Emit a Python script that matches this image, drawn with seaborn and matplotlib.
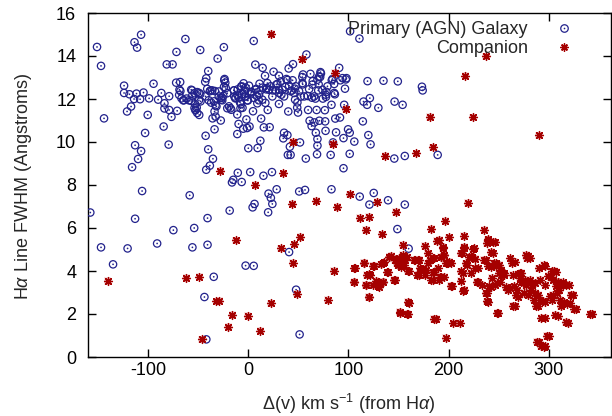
import matplotlib
matplotlib.use("Agg")
import matplotlib.pyplot as plt
import seaborn as sns
import pandas as pd
from matplotlib.lines import Line2D
from matplotlib.legend_handler import HandlerTuple

# ---------------- data ----------------
primary_dv = [
    -157.7, -151, -147, -147, -144, -135, -124, -124, -121, -120.5,
    -118.6, -117, -116, -113.6, -113, -113, -111, -114, -111.6, -110,
    -108, -107, -107, -106, -104.6, -103, -100.4, -99, -94.6, -91,
    -90, -86.8, -84.5, -83.7, -83.7, -81.4, -79.5, -79, -79, -76.7,
    -75.6, -74.8, -72, -71.7, -71, -69, -68, -67.8, -65, -62.8,
    -61.6, -58.5, -57, -56, -55.8, -54, -52.7, -53, -51.5, -49,
    -48, -49, -48, -43, -42.6, -42, -42, -40, -40.7, -40.7,
    -40, -39.5, -38.4, -38.4, -43.8, -41.9, -37, -35.7, -35.3, -34.5,
    -33.7, -33.7, -33.3, -32.6, -31.8, -30.6, -29.5, -27.5, -27, -26,
    -24.4, -24, -23, -22.5, -21, -18.6, -17.8, -16.3, -15, -14.3,
    -14, -13, -11, -11, -10.5, -10.5, -9.7, -9.3, -7.8, -7.4,
    -7, -6.6, -6.2, -5.8, -5, -4.7, -3.5, -3.1, -2.7, -2.7,
    -1.9, -1.2, -0.4, 0, 1.2, 1.9, 2.3, 3.1, 4.3, 4.7,
    5.4, 5.4, 6.2, 7, 7.8, 8.5, 9.3, 10.5, 11.2, 12,
    12.8, 14.3, 14.3, 15.1, 15.5, 17, 17.8, 18.6, 19.4, 19.8,
    20.2, 21.3, 22.5, 23.6, 24, 24.4, 25.2, 27, 28.3, 29,
    30.6, 30.6, 30.6, 33, 34.9, 35.7, 36.8, 39, 39, 39.5,
    39.9, 40.3, 41.5, 40.7, 42.2, 43.4, 44.2, 44.6, 46.5, 47.7,
    48.8, 49.6, 50.8, 51.2, 51.6, 52.3, 53.9, 54.3, 54.6, 56.6,
    57.4, 58, 59.3, 59.7, 61.2, 62, 63.2, 63.6, 64.3, 65.9,
    67, 67.4, 68.2, 68.6, 69, 69, 69.8, 70.2, 70.9, 71.7,
    72, 72.5, 74.4, 76.4, 76.7, 77.1, 77.5, 78, 82.2, 83,
    83, 83.3, 84.5, 85.7, 86.4, 86.8, 87.6, 90.7, 91.5, 91.9,
    95, 95, 95.7, 96.5, 97.3, 99.6, 101.2, 101.2, 101.6, 105.8,
    110.9, 111.2, 114.3, 115, 118.6, 119, 119.8, 120.9, 121.3, 122,
    125.2, 129.8, 134.9, 139.5, 146, 145.7, 148.8, 149.2, 154, 156.2,
    156.2, 160, 173.3, 174, 189,
    -68.7, -66.7, -64.3, -59.3, -57, -56, -53.7, -51, -49.3, -53.7,
    -52.7, -51, -47.7, -42.7, -41, -37.7, -36, -34.3, -32.7, -29.3,
    -27.7, -26, -25, -24.3, -23.7, -21, -19.3, -17, -14.3, -12.7,
    -11, -8.3, -7, -4.3, -2.7, -1, 0.7, 3, 5.7, 7.3,
    9, 10.7, 12.3, 14,
    16.7, 19, 20.7, 22.3, 24, 28, 30.7, 32.3, 34, 35.7,
    38, 40.7, 42.3, 45.7, 46.7, 47.3, 49, 50.7, 54, 55.7,
    60.7, 64, 65.7, 69, 70.7, 74, 77.3, 79, 84, 85.7,
    94, 98,
]
primary_fwhm = [
    6.72, 14.42, 13.54, 5.1, 11.1, 4.31, 12.62, 12.28, 11.42, 5.05,
    12.22, 11.65, 8.83, 14.64, 6.43, 9.85, 14.39, 12.0, 12.25, 9.21,
    11.99, 14.99, 9.58, 7.72, 12.3, 10.42, 11.26, 12.03, 12.71, 5.28,
    11.97, 12.28, 10.72, 11.8, 11.56, 13.61, 9.88, 12.13, 11.49, 11.17,
    13.61, 5.9, 12.76, 14.19, 11.45, 12.19, 12.79, 12.37, 11.94, 14.79,
    12.02, 7.52, 11.91, 12.4, 5.1, 6.0, 11.47, 11.76, 11.6, 12.28,
    12.22, 11.26, 14.28, 12.8, 10.29, 12.96, 8.71, 9.66, 6.46, 5.22,
    13.3, 11.94, 12.36, 8.9, 2.79, 0.82, 11.83, 11.1, 9.22, 3.73,
    11.42, 10.59, 12.37, 11.18, 11.66, 13.88, 12.12, 11.0, 11.97, 12.06,
    14.41, 12.87, 12.76, 12.51, 11.57, 6.81, 11.57, 8.12, 8.24, 12.4,
    12.12, 12.03, 10.37, 11.28, 8.57, 12.45, 10.84, 12.06, 11.57, 11.76,
    12.59, 8.14, 12.23, 11.59, 10.62, 12.73, 12.12, 12.4, 12.53, 4.25,
    11.05, 10.65, 11.93, 9.71, 10.72, 8.6, 12.22, 12.34, 6.96, 11.43,
    14.7, 4.24, 7.12, 13.6, 12.47, 12.14, 9.72, 11.94, 12.71, 10.06,
    11.09, 12.53, 13.45, 8.43, 10.68, 11.82, 12.45, 12.51, 11.49, 6.73,
    7.6, 10.69, 7.4, 8.6, 7.12, 12.4, 13.27, 12.4, 7.8, 12.7,
    11.77, 13.08, 12.43, 12.2, 10.17, 10.43, 12.56, 12.88, 10.32, 9.4,
    11.42, 13.42, 9.78, 4.88, 9.4, 12.4, 12.87, 13.62, 12.48, 3.13,
    11.6, 11.37, 7.7, 1.05, 9.98, 12.11, 13.02, 12.68, 13.14, 7.77,
    9.23, 14.07, 12.14, 11.49, 10.99, 13.17, 10.74, 12.06, 12.83, 10.91,
    12.02, 10.43, 11.49, 9.43, 9.83, 10.14, 12.4, 12.68, 10.99, 13.02,
    13.25, 13.19, 12.02, 11.48, 10.96, 10.52, 12.1, 12.33, 9.4, 7.8,
    11.73, 12.87, 9.98, 12.7, 12.22, 11.09, 10.45, 13.45, 11.14, 12.87,
    8.78, 10.18, 11.73, 12.48, 12.91, 10.59, 10.43, 9.45, 15.15, 10.02,
    14.81, 7.46, 10.96, 11.88, 11.73, 12.83, 10.32, 7.09, 12.04, 9.89,
    7.63, 11.59, 12.85, 7.29, 11.88, 9.23, 5.95, 12.82, 11.73, 9.35,
    7.09, 5.04, 12.57, 12.4, 9.4,
    12.43, 12.03, 11.94, 11.94, 12.43, 12.15, 12.27, 12.32, 11.94, 11.58,
    11.5, 11.35, 11.89, 12.12, 12.47, 12.40, 12.40, 11.89, 11.7, 12.35,
    12.05, 11.94, 12.15, 12.56, 12.93, 12.27, 11.66, 11.5, 12.40, 12.05,
    12.2, 11.84, 12.56, 12.35, 12.12, 11.94, 12.62, 12.3, 12.05, 12.43,
    11.8, 12.2, 12.40, 11.97,
    13.08, 12.74, 12.43, 12.59, 12.12, 12.67, 12.28, 12.82, 12.43, 12.12,
    12.93, 12.62, 12.36, 12.28, 11.97, 12.59, 11.84, 12.36, 12.74, 12.12,
    12.46, 12.67, 12.12, 12.9, 13.05, 12.43, 12.2, 12.59, 12.93, 12.28,
    12.97, 12.97,
]

companion_dv = [
    22.9, 53.5, 86.4, 97.3, 44.6, 84.5, -27.9, 34.9, 7, 237.2,
    216.7, 181.4, 224, 289.9, 184.1, 136.8, 167.8, 101.2, 43.8, 67.8,
    88.8, 128.7, 219, 147.5, 111.2, 120.2, 117.4, 133.3, 196.5, 182.6,
    235.7, 200.4, 215.1, 238.8, 244.6, -12.4, 51.9, 32.2, 46.1, 44.2,
    -140.3, -62, -48.8, -31.8, -29, -15.9, -19.8, -0.8, 12, 22.5,
    -46.5, 48.4, 79.1, 85.7, 105.8, 105, 115.5, 120.2, 117.4, 118.2,
    121.3, 124.4, 127.1, 129, 131, 134, 134.9, 138.8, 140.7, 142.6,
    145.3, 146.5, 148.4, 150.4, 152.3, 154.3, 154.3, 156.2, 158.1, 151.2,
    158.1, 159.3, 159.3, 165.9, 169.8, 168.6, 171, 174.8, 176.4, 179.5,
    181.4, 182.6, 184.5, 185.7, 188.4, 189.1, 190.3, 191.9, 192.6, 194.2,
    195, 196.9, 198.8, 200.8, 201.9, 185.3, 196.9, 204.7, 210.9, 212.4,
    212.4, 214.3, 213.6, 215.1, 218.2, 220.2, 222.1, 222.9, 224, 226.7,
    227.9, 232.9, 234.9, 236.8, 238.4, 239.5, 240.7, 242.2, 243.4, 245.3,
    246.1, 247.3, 248.4, 250, 251.2, 252.3, 255, 257, 258.9, 261.6,
    262.8, 264, 264.7, 266.7, 267.8, 269.4, 271, 272.5, 274.4, 275.6,
    277.1, 278.3, 279.5, 281, 282.2, 283.3, 284.9, 286, 287.2, 288,
    289.9, 291.1, 291.9, 292.6, 293.8, 295, 295.7, 296.5, 297.7, 299.6,
    301.6, 302.7, 303.5, 304.3, 305.4, 306.6, 307.4, 308.1, 309.3, 310.5,
    311.2, 312, 313.6, 315.1, 317.1, 318.2, 319.8, 322.1, 324.8, 341.5,
    190.7, 194, 192.3, 195.7, 199, 202.3, 191.7, 195.7, 203, 212.3,
    215.7, 215.7, 217.3, 214, 222.3, 225.7, 226.3, 229, 229, 237.3,
    238.3, 239.7, 242.3, 244, 246.3, 247.3, 250.7, 252.3, 248.3, 242.3,
    238.3, 239.7, 249.7, 255.7, 260.7, 264, 265.7, 269, 270.7, 272.3,
    266.3, 275.7, 277.3, 279, 280.7, 279, 285.7, 289, 289, 290.7,
    295.7, 295.7, 295.7, 302.3, 304, 307.3, 309, 310.7, 314, 317.3,
    320.7, 324, 327.3, 309, 319, 299.7, 289.7, 295, 343.3,
    140.7, 147.3, 150.7, 154, 155.7, 149, 152.3, 160, 165.7, 170.7,
    172.3, 177.3, 179, 184, 185.7, 170, 176.7, 184, 139, 135.7,
    132.3, 125, 115.7, 106.3, 105.7, 117.3, 120.7, 124, 129, 130.7,
    134, 146.3, 120, 160, 151.3, 159, 187.3,
]
companion_fwhm = [
    15.02, 13.84, 13.22, 11.52, 10.02, 9.91, 8.67, 8.55, 8.01, 13.99,
    13.08, 11.17, 11.14, 10.31, 9.75, 9.37, 9.48, 7.57, 7.13, 7.26,
    6.98, 7.23, 7.16, 6.75, 6.47, 6.52, 5.9, 5.7, 6.33, 5.96,
    5.92, 5.56, 5.62, 5.47, 5.36, 5.42, 5.58, 5.05, 5.24, 4.39,
    3.54, 3.68, 3.73, 2.59, 2.62, 1.96, 1.39, 1.91, 1.23, 2.5,
    0.82, 2.94, 2.65, 4.0, 4.13, 3.48, 4.39, 2.79, 3.33, 3.82,
    3.81, 4.25, 3.54, 3.28, 3.44, 4.36, 3.51, 3.94, 4.67, 4.7,
    3.59, 4.51, 4.36, 4.59, 4.28, 4.75, 5.21, 4.51, 4.67, 2.1,
    2.02, 2.56, 4.0, 4.5, 4.51, 3.82, 4.13, 4.08, 5.16, 4.82,
    4.51, 3.59, 3.94, 4.59, 5.39, 4.13, 3.59, 3.74, 4.64, 5.05,
    4.75, 4.36, 4.36, 4.44, 3.31, 1.77, 0.89, 1.57, 1.59, 3.98,
    3.54, 3.08, 4.82, 5.08, 4.28, 4.67, 3.93, 4.67, 5.01, 4.13,
    3.51, 3.36, 4.51, 2.97, 2.59, 4.24, 3.28, 4.9, 3.67, 4.36,
    3.36, 4.21, 2.05, 3.9, 3.51, 4.05, 3.82, 3.25, 3.1, 4.59,
    4.36, 2.39, 3.28, 2.87, 3.13, 3.87, 3.67, 3.9, 3.51, 2.97,
    4.75, 4.59, 3.44, 3.59, 3.13, 3.36, 2.67, 2.97, 2.39, 0.71,
    4.13, 3.59, 0.51, 1.82, 2.59, 4.28, 0.51, 3.36, 0.97, 3.77,
    2.82, 3.98, 2.67, 3.59, 4.02, 1.96, 3.28, 2.97, 3.51, 3.13,
    3.36, 2.36, 3.47, 2.54, 1.62, 2.48, 3.36, 2.9, 2.23, 2.02,
    5.44, 5.13, 4.67, 4.74, 4.36, 4.36, 3.74, 3.74, 3.32, 4.82,
    5.13, 3.12, 4.36, 3.89, 4.67, 5.05, 4.56, 4.12, 3.5, 4.51,
    5.29, 5.44, 4.2, 4.82, 5.33, 4.36, 4.28, 3.82, 3.43, 3.27,
    2.96, 2.57, 2.03, 3.89, 3.19, 3.82, 4.43, 2.81, 3.89, 3.5,
    2.39, 3.58, 3.35, 4.71, 4.59, 2.89, 3.43, 2.89, 2.35, 2.66,
    4.21, 2.58, 1.83, 3.74, 2.89, 3.97, 3.5, 2.66, 3.35, 3.35,
    2.5, 2.89, 2.23, 1.92, 1.58, 0.98, 0.72, 0.48, 2.0,
    4.67, 4.56, 4.43, 4.67, 4.28, 4.28, 4.2, 4.0, 4.51, 4.51,
    4.09, 4.04, 4.36, 4.59, 3.94, 3.81, 3.81, 3.58, 3.94, 4.4,
    4.31, 4.25, 4.38, 4.12, 3.5, 3.35, 3.85, 3.35, 3.5, 3.27,
    3.5, 3.58, 2.78, 2.53, 2.06, 2.02, 1.77,
]

x_ticks = [-100, 0, 100, 200, 300]
y_ticks = [0, 2, 4, 6, 8, 10, 12, 14, 16]
series_labels = ["Primary (AGN) Galaxy", "Companion"]

# ---------------- styling ----------------
BLUE = "#22228c"
RED = "#a50000"
HALO = "#e39a9a"

sns.set_theme(style="ticks")
plt.rcParams["font.family"] = ["Liberation Sans", "DejaVu Sans"]
plt.rcParams["mathtext.fontset"] = "custom"
plt.rcParams["mathtext.rm"] = "Liberation Sans"
plt.rcParams["mathtext.it"] = "Liberation Sans:italic"

prim = pd.DataFrame({"dv": primary_dv, "fwhm": primary_fwhm})
comp = pd.DataFrame({"dv": companion_dv, "fwhm": companion_fwhm})

fig = plt.figure(figsize=(6.12, 4.16), dpi=100)
ax = fig.add_axes([88 / 612, 1 - 357 / 416, 523 / 612, 344 / 416])

# primary: open circle with a centre dot
sns.scatterplot(data=prim, x="dv", y="fwhm", ax=ax, marker="o", s=28,
                facecolor="none", edgecolor=BLUE, linewidth=0.9, zorder=3)
sns.scatterplot(data=prim, x="dv", y="fwhm", ax=ax, marker="o", s=1.5,
                color=BLUE, edgecolor="none", linewidth=0, zorder=3)
# companion: asterisk with light halo
sns.scatterplot(data=comp, x="dv", y="fwhm", ax=ax, marker="s", s=28,
                color=HALO, alpha=0.3, edgecolor="none", linewidth=0, zorder=4)
sns.scatterplot(data=comp, x="dv", y="fwhm", ax=ax, marker=(8, 2, 0), s=32,
                color=RED, edgecolor=RED, linewidth=1.0, zorder=5)

ax.set_xlim(-160, 362)
ax.set_ylim(0, 16)
ax.set_xticks(x_ticks)
ax.set_yticks(y_ticks)
ax.set_xticklabels([str(v) for v in x_ticks])
ax.set_yticklabels([str(v) for v in y_ticks])

for sp in ax.spines.values():
    sp.set_visible(True)
    sp.set_linewidth(1.0)
    sp.set_color("black")
ax.tick_params(axis="both", which="major", direction="in", length=6, width=1.0,
               top=True, right=True, labelsize=13, colors="black")
ax.tick_params(axis="x", pad=3.5)
ax.tick_params(axis="y", pad=8.5)
ax.minorticks_off()

ax.set_xlabel("Δ(v) km s$^{-1}$ (from H$\\it{\\alpha}$)", fontsize=13)
ax.set_ylabel("H$\\it{\\alpha}$ Line FWHM (Angstroms)", fontsize=13)
ax.xaxis.set_label_coords(0.499, -0.137)
ax.xaxis.label.set_va("center")
ax.yaxis.set_label_coords(-0.124, 0.497)
ax.yaxis.label.set_va("center")

if ax.get_legend() is not None:
    ax.get_legend().remove()

h_circle = Line2D([], [], linestyle="none", marker="o", markersize=5.4,
                  markerfacecolor="none", markeredgecolor=BLUE, markeredgewidth=0.9)
h_dot = Line2D([], [], linestyle="none", marker="o", markersize=1.2,
               markerfacecolor=BLUE, markeredgecolor="none")
h_star = Line2D([], [], linestyle="none", marker=(8, 2, 0), markersize=5.8,
                markeredgecolor=RED, markerfacecolor=RED, markeredgewidth=1.0)
ax.legend([(h_circle, h_dot), h_star], series_labels,
          handler_map={tuple: HandlerTuple(ndivide=1, pad=0)},
          loc="upper right", bbox_to_anchor=(0.9446, 0.976),
          markerfirst=False, frameon=False, fontsize=13,
          borderpad=0, borderaxespad=0, handletextpad=1.0,
          handlelength=2.0, labelspacing=0.1)

fig.savefig("out.png", dpi=100)
